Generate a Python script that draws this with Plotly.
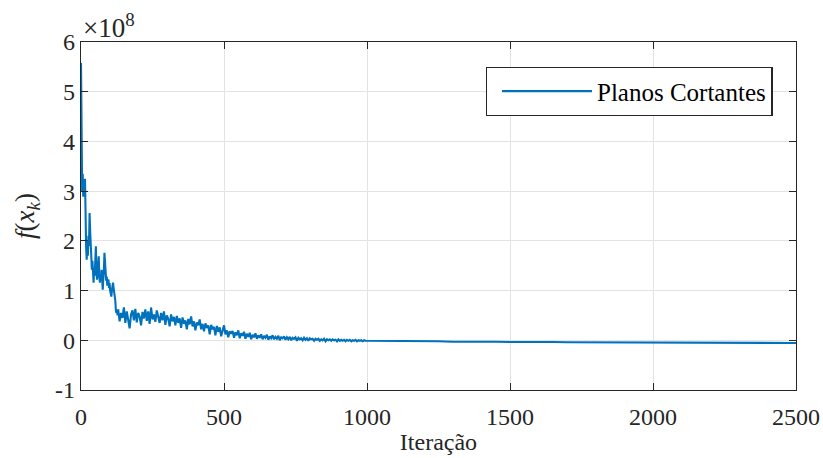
import plotly.graph_objects as go

# Objective value per iteration of the cutting-plane method, in units of 1e8
iter_inicio = list(range(0, 130, 2))
f_inicio = [
    5.58, 4.17, 3.00, 3.35, 2.89, 3.10, 2.95, 3.25, 2.20, 1.85,
    1.62, 2.00, 1.70, 2.10, 1.90, 2.56, 2.20, 1.80, 1.50, 1.42,
    1.60, 1.25, 1.16, 1.45, 1.30, 1.60, 1.89, 1.40, 1.22, 1.35,
    1.55, 1.69, 1.30, 1.16, 1.30, 1.20, 1.42, 1.15, 1.02, 1.25,
    1.40, 1.76, 1.50, 1.30, 1.20, 1.28, 1.10, 1.20, 1.22, 1.05,
    1.15, 1.00, 0.95, 0.88, 1.00, 1.10, 1.16, 1.05, 0.98, 0.95,
    0.80, 0.60, 0.55, 0.62, 0.50,
]

iter_meio = list(range(130, 1000, 5))
f_meio = [
    0.62, 0.38, 0.55, 0.45, 0.66, 0.35, 0.58, 0.42, 0.24, 0.52,
    0.60, 0.40, 0.63, 0.36, 0.55, 0.48, 0.30, 0.57, 0.44, 0.62,
    0.39, 0.58, 0.33, 0.66, 0.42, 0.52, 0.37, 0.60, 0.45, 0.35,
    0.55, 0.40, 0.58, 0.31, 0.50, 0.43, 0.28, 0.52, 0.38, 0.47,
    0.30, 0.49, 0.35, 0.44, 0.25, 0.46, 0.33, 0.40, 0.22, 0.43,
    0.32, 0.48, 0.28, 0.38, 0.20, 0.36, 0.30, 0.42, 0.22, 0.33,
    0.18, 0.34, 0.25, 0.30, 0.12, 0.31, 0.22, 0.27, 0.10, 0.29,
    0.17, 0.26, 0.08, 0.22, 0.30, 0.12, 0.20, 0.06, 0.18, 0.13,
    0.19, 0.05, 0.16, 0.10, 0.20, 0.04, 0.14, 0.09, 0.17, 0.03,
    0.13, 0.07, 0.15, 0.02, 0.11, 0.06, 0.14, 0.03, 0.10, 0.05,
    0.12, 0.02, 0.09, 0.05, 0.11, 0.01, 0.08, 0.04, 0.10, 0.02,
    0.07, 0.03, 0.09, 0.00, 0.06, 0.04, 0.08, 0.01, 0.06, 0.02,
    0.07, 0.00, 0.05, 0.03, 0.06, -0.01, 0.05, 0.02, 0.04, 0.00,
    0.05, 0.01, 0.04, -0.01, 0.04, 0.02, 0.03, -0.01, 0.03, 0.01,
    0.03, -0.01, 0.02, 0.00, 0.03, -0.02, 0.02, 0.00, 0.02, -0.01,
    0.02, 0.00, 0.01, -0.02, 0.02, -0.01, 0.01, -0.01, 0.01, -0.02,
    0.01, -0.01, 0.01, -0.02, 0.00, -0.01, 0.01, -0.02, 0.00, -0.01,
    0.00, -0.02, 0.00, -0.01,
]

iter_fim = list(range(1000, 2501, 50))
f_fim = [
    -0.010, -0.020, -0.015, -0.020, -0.025, -0.020, -0.030, -0.025,
    -0.030, -0.030, -0.035, -0.030, -0.035, -0.035, -0.040, -0.040,
    -0.040, -0.040, -0.045, -0.045, -0.045, -0.045, -0.050, -0.050,
    -0.050, -0.050, -0.050, -0.050, -0.055, -0.055, -0.055,
]

iteracoes = iter_inicio + iter_meio + iter_fim
valores = f_inicio + f_meio + f_fim

x_ticks = [0, 500, 1000, 1500, 2000, 2500]
y_ticks = [-1, 0, 1, 2, 3, 4, 5, 6]
y_tick_text = ["-1", "0", "1", "2", "3", "4", "5", "6"]

FONT = "Times New Roman"
AXIS = "#262626"
GRID = "#e3e3e3"
TXT = dict(family=FONT, size=24, color="#262626")

fig = go.Figure()
fig.add_trace(go.Scatter(
    x=iteracoes, y=valores, mode="lines",
    name="Planos Cortantes",
    line=dict(color="#0072BD", width=2.1),
))

axis_common = dict(
    showline=True, linecolor=AXIS, linewidth=1.3, mirror="ticks",
    ticks="inside", ticklen=7, tickwidth=1.3, tickcolor=AXIS,
    showgrid=True, gridcolor=GRID, gridwidth=1.2, zeroline=False,
    tickfont=TXT, automargin=False,
)

fig.update_xaxes(
    range=[0, 2500], tickvals=x_ticks, ticklabelstandoff=5,
    title=dict(text="Iteração", font=TXT, standoff=4),
    **axis_common,
)
fig.update_yaxes(
    range=[-1, 6], tickvals=y_ticks, ticktext=y_tick_text,
    title=dict(text="<i>f</i>(<i>x<sub>k</sub></i>)",
               font=dict(family=FONT, size=27, color="#262626"), standoff=12),
    **axis_common,
)

fig.add_annotation(
    text="×10<sup>8</sup>", xref="paper", yref="paper", x=0.0, y=1.0,
    xanchor="left", yanchor="bottom", showarrow=False, yshift=-3,
    font=dict(family=FONT, size=27, color="#262626"),
)

fig.update_layout(
    width=823, height=458,
    margin=dict(l=81, r=27, t=42, b=68),
    paper_bgcolor="white", plot_bgcolor="white",
    showlegend=True,
    legend=dict(
        x=0.566, y=0.928, xanchor="left", yanchor="top",
        bgcolor="white", bordercolor=AXIS, borderwidth=1.3,
        font=dict(family=FONT, size=25, color="black"),
        itemwidth=90, indentation=10,
    ),
)

fig.write_html("out.html")
